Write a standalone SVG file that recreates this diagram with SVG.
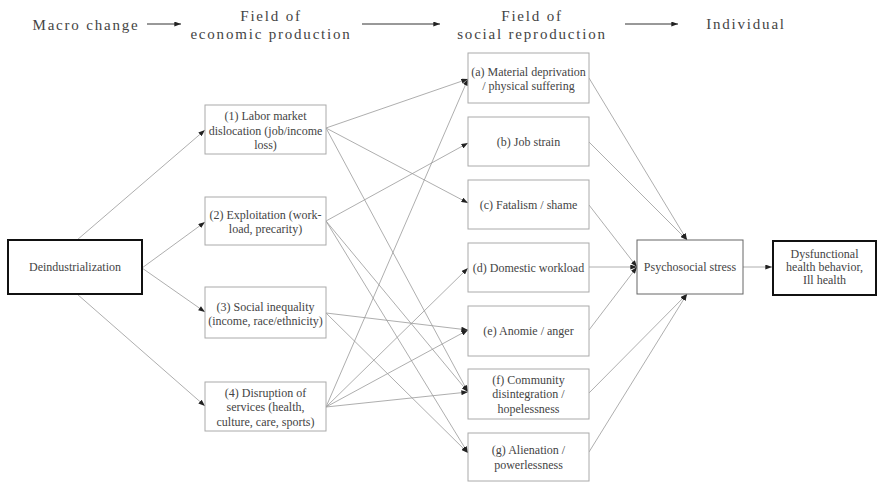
<svg xmlns="http://www.w3.org/2000/svg" width="878" height="482" viewBox="0 0 878 482">
<style>
.hd{font-family:"Liberation Serif","Times New Roman",serif;font-size:15px;fill:#444;letter-spacing:1.8px;text-anchor:middle}
.t{font-family:"Liberation Serif","Times New Roman",serif;font-size:12px;fill:#444;text-anchor:middle}
.bx{fill:#fff;stroke:#aaa;stroke-width:1}
.bx2{fill:#fff;stroke:#666;stroke-width:1}
.bk{fill:#fff;stroke:#111;stroke-width:2}
.c{stroke:#999;stroke-width:0.8;fill:none;marker-end:url(#ah)}
.h{stroke:#333;stroke-width:1;fill:none;marker-end:url(#ah)}
</style>
<defs>
<marker id="ah" viewBox="0 0 8 6" refX="8" refY="3" markerWidth="7" markerHeight="5" markerUnits="userSpaceOnUse" orient="auto"><path d="M0,0 L8,3 L0,6 z" fill="#222"/></marker>
</defs>
<rect width="878" height="482" fill="#fff"/>
<g id="header">
<text class="hd" x="86" y="30">Macro change</text>
<text class="hd" x="271" y="21">Field of</text>
<text class="hd" x="271" y="39">economic production</text>
<text class="hd" x="532" y="21">Field of</text>
<text class="hd" x="532" y="39">social reproduction</text>
<text class="hd" x="746" y="29">Individual</text>
<line class="h" x1="147" y1="24" x2="181" y2="24"/>
<line class="h" x1="362" y1="24" x2="440" y2="24"/>
<line class="h" x1="625" y1="24" x2="678" y2="24"/>
</g>
<g id="connectors">
<path class="c" d="M77,240 L205,130"/>
<path class="c" d="M142,268 L205,222"/>
<path class="c" d="M142,268 L205,312"/>
<path class="c" d="M77,294 L205,406"/>
<path class="c" d="M326,128 L468,79"/>
<path class="c" d="M326,128 L468,203"/>
<path class="c" d="M326,128 L468,392"/>
<path class="c" d="M326,221 L468,143"/>
<path class="c" d="M326,221 L468,392"/>
<path class="c" d="M326,221 L468,453"/>
<path class="c" d="M326,313 L468,330"/>
<path class="c" d="M326,313 L468,453"/>
<path class="c" d="M326,407 L468,79"/>
<path class="c" d="M326,407 L468,268"/>
<path class="c" d="M326,407 L468,330"/>
<path class="c" d="M326,407 L468,392"/>
<path class="c" d="M589,78 L687,240"/>
<path class="c" d="M589,142 L687,240"/>
<path class="c" d="M589,205 L637,267"/>
<path class="c" d="M589,267 L637,267"/>
<path class="c" d="M589,330 L637,267"/>
<path class="c" d="M589,393 L687,294"/>
<path class="c" d="M589,452 L687,294"/>
<path class="c" d="M743,267 L772,267"/>
</g>
<g id="deind"><rect class="bk" x="8" y="240" width="134" height="54"/><text class="t" x="75" y="271">Deindustrialization</text></g>
<g id="n1"><rect class="bx" x="205" y="105" width="121" height="49"/><text class="t" x="265.5" y="120">(1) Labor market</text><text class="t" x="265.5" y="135">dislocation (job/income</text><text class="t" x="265.5" y="149">loss)</text></g>
<g id="n2"><rect class="bx" x="205" y="197" width="121" height="48"/><text class="t" x="265.5" y="219">(2) Exploitation (work-</text><text class="t" x="265.5" y="233">load, precarity)</text></g>
<g id="n3"><rect class="bx" x="205" y="287" width="121" height="51"/><text class="t" x="265.5" y="311">(3) Social inequality</text><text class="t" x="265.5" y="325">(income, race/ethnicity)</text></g>
<g id="n4"><rect class="bx" x="205" y="382" width="121" height="49"/><text class="t" x="265.5" y="397">(4) Disruption of</text><text class="t" x="265.5" y="411">services (health,</text><text class="t" x="265.5" y="426">culture, care, sports)</text></g>
<g id="na"><rect class="bx" x="468" y="53" width="121" height="50"/><text class="t" x="528.5" y="76">(a) Material deprivation</text><text class="t" x="528.5" y="90">/ physical suffering</text></g>
<g id="nb"><rect class="bx" x="468" y="117" width="121" height="49"/><text class="t" x="528.5" y="146">(b) Job strain</text></g>
<g id="nc"><rect class="bx" x="468" y="180" width="121" height="49"/><text class="t" x="528.5" y="209">(c) Fatalism / shame</text></g>
<g id="nd"><rect class="bx" x="468" y="243" width="121" height="49"/><text class="t" x="528.5" y="272">(d) Domestic workload</text></g>
<g id="ne"><rect class="bx" x="468" y="306" width="121" height="50"/><text class="t" x="528.5" y="335">(e) Anomie / anger</text></g>
<g id="nf"><rect class="bx" x="468" y="369" width="121" height="50"/><text class="t" x="528.5" y="384">(f) Community</text><text class="t" x="528.5" y="398">disintegration /</text><text class="t" x="528.5" y="413">hopelessness</text></g>
<g id="ng"><rect class="bx" x="468" y="433" width="121" height="48"/><text class="t" x="528.5" y="454">(g) Alienation /</text><text class="t" x="528.5" y="469">powerlessness</text></g>
<g id="stress"><rect class="bx2" x="637" y="240" width="106" height="54"/><text class="t" x="690" y="271">Psychosocial stress</text></g>
<g id="outcome"><rect class="bk" x="773" y="241" width="103" height="54"/><text class="t" x="824.5" y="258">Dysfunctional</text><text class="t" x="824.5" y="271">health behavior,</text><text class="t" x="824.5" y="284">Ill health</text></g>
</svg>
